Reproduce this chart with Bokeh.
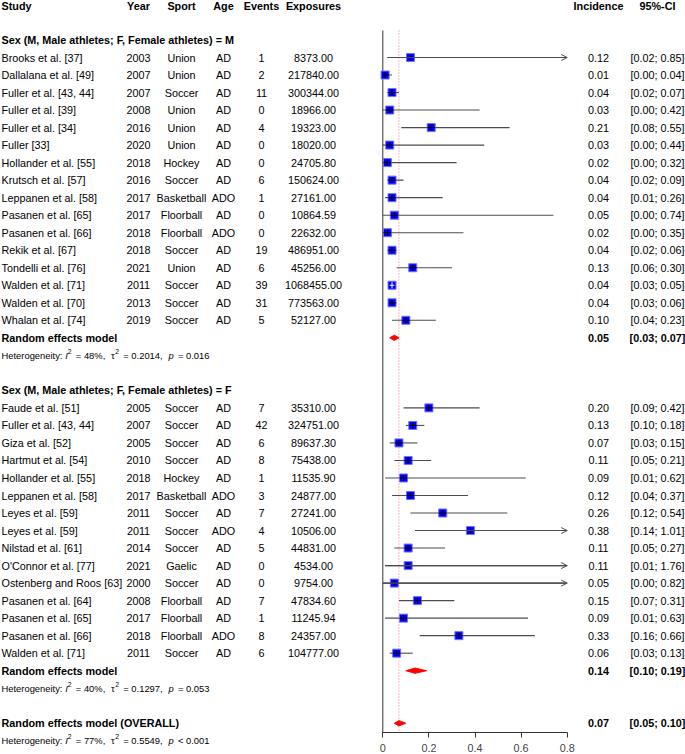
import math
from bokeh.plotting import figure
from bokeh.models import Range1d, LinearAxis, FixedTicker, ColumnDataSource, Arrow, OpenHead
from bokeh.embed import file_html
from bokeh.resources import INLINE
from bokeh.core.properties import value

# ---------------- data ----------------
col_headers = ["Study", "Year", "Sport", "Age", "Events", "Exposures", "Incidence", "95%-CI"]
group_labels = ["Sex (M, Male athletes; F, Female athletes) = M",
                "Sex (M, Male athletes; F, Female athletes) = F"]

m_study = ["Brooks et al. [37]", "Dallalana et al. [49]", "Fuller et al. [43, 44]", "Fuller et al. [39]",
           "Fuller et al. [34]", "Fuller [33]", "Hollander et al. [55]", "Krutsch et al. [57]",
           "Leppanen et al. [58]", "Pasanen et al. [65]", "Pasanen et al. [66]", "Rekik et al. [67]",
           "Tondelli et al. [76]", "Walden et al. [71]", "Walden et al. [70]", "Whalan et al. [74]"]
m_year = [2003, 2007, 2007, 2008, 2016, 2020, 2018, 2016, 2017, 2017, 2018, 2018, 2021, 2011, 2013, 2019]
m_sport = ["Union", "Union", "Soccer", "Union", "Union", "Union", "Hockey", "Soccer", "Basketball",
           "Floorball", "Floorball", "Soccer", "Union", "Soccer", "Soccer", "Soccer"]
m_age = ["AD", "AD", "AD", "AD", "AD", "AD", "AD", "AD", "ADO", "AD", "ADO", "AD", "AD", "AD", "AD", "AD"]
m_events = [1, 2, 11, 0, 4, 0, 0, 6, 1, 0, 0, 19, 6, 39, 31, 5]
m_exposures = [8373.00, 217840.00, 300344.00, 18966.00, 19323.00, 18020.00, 24705.80, 150624.00,
               27161.00, 10864.59, 22632.00, 486951.00, 45256.00, 1068455.00, 773563.00, 52127.00]
m_inc = [0.12, 0.01, 0.04, 0.03, 0.21, 0.03, 0.02, 0.04, 0.04, 0.05, 0.02, 0.04, 0.13, 0.04, 0.04, 0.10]
m_lo = [0.02, 0.00, 0.02, 0.00, 0.08, 0.00, 0.00, 0.02, 0.01, 0.00, 0.00, 0.02, 0.06, 0.03, 0.03, 0.04]
m_hi = [0.85, 0.04, 0.07, 0.42, 0.55, 0.44, 0.32, 0.09, 0.26, 0.74, 0.35, 0.06, 0.30, 0.05, 0.06, 0.23]

f_study = ["Faude et al. [51]", "Fuller et al. [43, 44]", "Giza et al. [52]", "Hartmut et al. [54]",
           "Hollander et al. [55]", "Leppanen et al. [58]", "Leyes et al. [59]", "Leyes et al. [59]",
           "Nilstad et al. [61]", "O'Connor et al. [77]", "Ostenberg and Roos [63]", "Pasanen et al. [64]",
           "Pasanen et al. [65]", "Pasanen et al. [66]", "Walden et al. [71]"]
f_year = [2005, 2007, 2005, 2010, 2018, 2017, 2011, 2011, 2014, 2021, 2000, 2008, 2017, 2018, 2011]
f_sport = ["Soccer", "Soccer", "Soccer", "Soccer", "Hockey", "Basketball", "Soccer", "Soccer", "Soccer",
           "Gaelic", "Soccer", "Floorball", "Floorball", "Floorball", "Soccer"]
f_age = ["AD", "AD", "AD", "AD", "AD", "ADO", "AD", "ADO", "AD", "AD", "AD", "AD", "AD", "ADO", "AD"]
f_events = [7, 42, 6, 8, 1, 3, 7, 4, 5, 0, 0, 7, 1, 8, 6]
f_exposures = [35310.00, 324751.00, 89637.30, 75438.00, 11535.90, 24877.00, 27241.00, 10506.00,
               44831.00, 4534.00, 9754.00, 47834.60, 11245.94, 24357.00, 104777.00]
f_inc = [0.20, 0.13, 0.07, 0.11, 0.09, 0.12, 0.26, 0.38, 0.11, 0.11, 0.05, 0.15, 0.09, 0.33, 0.06]
f_lo = [0.09, 0.10, 0.03, 0.05, 0.01, 0.04, 0.12, 0.14, 0.05, 0.01, 0.00, 0.07, 0.01, 0.16, 0.03]
f_hi = [0.42, 0.18, 0.15, 0.21, 0.62, 0.37, 0.54, 1.01, 0.27, 1.76, 0.82, 0.31, 0.63, 0.66, 0.13]

pooled_label = ["Random effects model", "Random effects model", "Random effects model (OVERALL)"]
pooled_inc = [0.05, 0.14, 0.07]
pooled_lo = [0.03, 0.10, 0.05]
pooled_hi = [0.07, 0.19, 0.10]
het_i2 = ["48%", "40%", "77%"]
het_tau2 = ["0.2014", "0.1297", "0.5549"]
het_p = ["= 0.016", "= 0.053", "< 0.001"]

tick_values = [0, 0.2, 0.4, 0.6, 0.8]
tick_labels = ["0", "0.2", "0.4", "0.6", "0.8"]
x_max = 0.8

# ---------------- layout ----------------
W_FIG, H_FIG = 685, 754
X0_PX, X_SCALE = 382.3, 230.5      # px of x=0, px per unit
ROW0_PX, ROW_H = 57.0, 17.52       # px of first study row, row height
FONT = "Liberation Sans"
FS = "10.8px"
FS_HET = 9.4

def px2x(px):
    return (px - X0_PX) / X_SCALE

def py2k(py):
    return (py - ROW0_PX) / ROW_H

p = figure(width=W_FIG, height=H_FIG, output_backend="svg", toolbar_location=None,
           x_range=Range1d(px2x(0), px2x(W_FIG)),
           y_range=Range1d(py2k(H_FIG), py2k(0)),
           x_axis_location=None, y_axis_location=None,
           min_border=0, outline_line_color=None, background_fill_color="white",
           border_fill_color="white")
p.grid.visible = False

# row indices
m_rows = list(range(0, len(m_study)))
f_start = len(m_study) + 4
f_rows = list(range(f_start, f_start + len(f_study)))
pooled_rows = [len(m_study), f_start + len(f_study), f_start + len(f_study) + 3]
het_rows = [r + 1 for r in pooled_rows]
group_rows = [-1, f_start - 1]
header_row = py2k(5.5)

COLS = {"study": 1, "year": 138, "sport": 181, "age": 223, "events": 261, "expo": 313,
        "inc": 598, "ci": 657}

def add_text(xpx, ys, texts, align="left", bold=False, size=FS, color="black"):
    src = ColumnDataSource(dict(x=[px2x(xpx)] * len(ys), y=list(ys), t=list(texts)))
    p.text(x="x", y="y", text="t", source=src, text_align=align, text_baseline="middle",
           text_font=value(FONT), text_font_size=value(size),
           text_font_style="bold" if bold else "normal", text_color=color)

# header
hdr_pos = [("study", "left"), ("year", "center"), ("sport", "center"), ("age", "center"),
           ("events", "center"), ("expo", "center"), ("inc", "center"), ("ci", "center")]
for (key, al), lab in zip(hdr_pos, col_headers):
    add_text(COLS[key], [header_row], [lab], align=al, bold=True)

# group labels
add_text(COLS["study"], group_rows, group_labels, bold=True)

# study rows
all_rows = m_rows + f_rows
study = m_study + f_study
year = [str(v) for v in m_year + f_year]
sport = m_sport + f_sport
age = m_age + f_age
events = [str(v) for v in m_events + f_events]
expo = [f"{v:.2f}" for v in m_exposures + f_exposures]
inc = m_inc + f_inc
lo = m_lo + f_lo
hi = m_hi + f_hi

add_text(COLS["study"], all_rows, study)
add_text(COLS["year"], all_rows, year, align="center")
add_text(COLS["sport"], all_rows, sport, align="center")
add_text(COLS["age"], all_rows, age, align="center")
add_text(COLS["events"], all_rows, events, align="center")
add_text(COLS["expo"], all_rows, expo, align="center")
add_text(COLS["inc"], all_rows, [f"{v:.2f}" for v in inc], align="center")
add_text(COLS["ci"], all_rows, [f"[{a:.2f}; {b:.2f}]" for a, b in zip(lo, hi)], align="center")

# pooled rows
add_text(COLS["study"], pooled_rows, pooled_label, bold=True)
add_text(COLS["inc"], pooled_rows, [f"{v:.2f}" for v in pooled_inc], align="center", bold=True)
add_text(COLS["ci"], pooled_rows, [f"[{a:.2f}; {b:.2f}]" for a, b in zip(pooled_lo, pooled_hi)],
         align="center", bold=True)

# heterogeneity lines (pieces with italic / superscript)
WID = {' ': 278, 'H': 722, 'e': 556, 't': 278, 'r': 333, 'o': 556, 'g': 556, 'n': 556, 'i': 222,
       'y': 500, ':': 278, 'I': 278, '=': 584, '%': 889, ',': 278, '.': 278, 'p': 556, '<': 584,
       'τ': 450}

def tw(s, fs, space_scale=1.0):
    return sum(WID.get(c, 556) * (space_scale if c == ' ' else 1.0) for c in s) / 1000.0 * fs

hx, hy, ht, hxo, hyo, hfs, hst = [], [], [], [], [], [], []
SUP = 6.8
SPACE_SCALE = 1.6
for r, i2, tau, pv in zip(het_rows, het_i2, het_tau2, het_p):
    pieces = [("Heterogeneity: ", "normal", FS_HET, 0), ("I", "italic", FS_HET, 0), ("2", "normal", SUP, -4),
              (f" = {i2}, ", "normal", FS_HET, 0), ("τ", "normal", FS_HET, 0), ("2", "normal", SUP, -4),
              (f" = {tau}, ", "normal", FS_HET, 0), ("p", "italic", FS_HET, 0), (f" {pv}", "normal", FS_HET, 0)]
    off = 0.0
    for j, (txt, st, fs, yo) in enumerate(pieces):
        sc = 1.0 if j == 0 else SPACE_SCALE
        lead = len(txt) - len(txt.lstrip(" "))
        off += tw(" " * lead, fs, sc)
        core = txt.strip(" ")
        hx.append(px2x(COLS["study"]))
        hy.append(r)
        ht.append(core)
        hxo.append(off)
        hyo.append(yo)
        hfs.append(f"{fs}px")
        hst.append(st)
        off += tw(txt.lstrip(" "), fs, sc)
het_src = ColumnDataSource(dict(x=hx, y=hy, t=ht, xo=hxo, yo=hyo, fs=hfs, st=hst))
p.text(x="x", y="y", text="t", x_offset="xo", y_offset="yo", text_font_size="fs",
       text_font_style="st", source=het_src, text_font=value(FONT), text_baseline="middle",
       text_align="left", text_color="black")

# reference lines
line_top = py2k(30)
axis_k = py2k(732)
p.segment(x0=[0], y0=[line_top], x1=[0], y1=[axis_k], line_color="#333333", line_width=1)
p.segment(x0=[pooled_inc[2]], y0=[line_top], x1=[pooled_inc[2]], y1=[axis_k],
          line_color="#ee7777", line_width=1, line_dash="1 2")

# CIs
ci_color = "#4d4d4d"
box_px = 8
cross_col = ["white" if (b - a) * X_SCALE < 6 else "black" for a, b in zip(lo, hi)]
ci_src = ColumnDataSource(dict(y=all_rows, est=inc, lo=lo, hi=[min(b, x_max) for b in hi]))
p.segment(x0="lo", y0="y", x1="hi", y1="y", source=ci_src, line_color=ci_color, line_width=1.1)
p.scatter(x="est", y="y", source=ci_src, marker="square", size=box_px, fill_color="#0000ff",
          line_color="#7070ff", line_width=1)
# CI line re-drawn across the box + small vertical tick
box_src = ColumnDataSource(dict(y=all_rows, est=inc,
                                l=[max(a, e - box_px / 2 / X_SCALE) for a, e in zip(lo, inc)],
                                h=[min(b, e + box_px / 2 / X_SCALE) for b, e in zip(hi, inc)],
                                cc=cross_col))
p.segment(x0="l", y0="y", x1="h", y1="y", source=box_src, line_color="cc", line_width=1)
p.scatter(x="est", y="y", source=box_src, marker="dash", angle=math.pi / 2, size=6,
          line_color="cc", line_width=1)

# arrows for CIs beyond the axis
arr_idx = [i for i, b in enumerate(hi) if b > x_max]
arr_src = ColumnDataSource(dict(x0=[lo[i] for i in arr_idx], x1=[x_max] * len(arr_idx),
                                y=[all_rows[i] for i in arr_idx]))
p.add_layout(Arrow(end=OpenHead(size=6, line_color=ci_color, line_width=1), x_start="x0", y_start="y",
                   x_end="x1", y_end="y", source=arr_src, line_color=ci_color, line_width=1.1))

# diamonds
hh = 0.15
dxs, dys = [], []
for r, e, a, b in zip(pooled_rows, pooled_inc, pooled_lo, pooled_hi):
    dxs.append([a, e, b, e])
    dys.append([r, r - hh, r, r + hh])
p.patches(xs=dxs, ys=dys, fill_color="#ff0000", line_color="#ff0000", line_width=1)

# x axis
ax = LinearAxis(fixed_location=axis_k, bounds=(0, x_max), ticker=FixedTicker(ticks=tick_values),
                major_label_overrides={v: l for v, l in zip(tick_values, tick_labels)})
ax.major_tick_out = 5
ax.major_tick_in = 0
ax.minor_tick_line_color = None
ax.axis_line_color = "#333333"
ax.major_tick_line_color = "#333333"
ax.major_label_text_font = FONT
ax.major_label_text_font_size = "10.8px"
ax.major_label_standoff = 6
p.add_layout(ax, "below")

open("out.html", "w").write(file_html(p, INLINE))
